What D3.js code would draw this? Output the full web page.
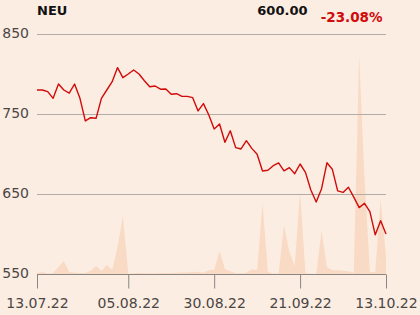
<!DOCTYPE html>
<html>
<head>
<meta charset="utf-8">
<script src="https://cdn.jsdelivr.net/npm/d3@7"></script>
<style>
  html, body { margin: 0; padding: 0; background: #fcede2; }
  svg { display: block; font-family: "DejaVu Sans", sans-serif; }
</style>
</head>
<body>
<div id="chart"></div>
<script>
// closing prices, one per trading day 13.07.22 .. 13.10.22
var prices = [780, 780, 778, 769.6, 787.5, 780, 776, 787.5, 769.6, 741.3,
  745.4, 744.6, 769.6, 780, 790.4, 808, 795.4, 800, 805, 800,
  791.6, 784, 785, 781, 781.3, 774.6, 775.4, 772, 772, 770.4,
  753.8, 763, 748.8, 731.3, 737.5, 714.6, 729, 708, 706.3, 716.6,
  707, 699.6, 678.8, 679.6, 685.4, 688.8, 679, 683, 675.4, 687.5,
  677, 655, 640, 656.6, 689, 681, 654, 652, 658.4, 646,
  633, 638.4, 628, 599, 616.6, 600];

// traded volume (relative units)
var volumes = [1, 2, 0.5, 1, 7, 13, 2, 1.3, 1, 1,
  3.3, 8, 3.3, 9, 4, 27, 58, 0.3, 0.7, 1,
  0.5, 0.7, 0.5, 1, 1, 1, 1.3, 1.5, 1.5, 2,
  2.3, 1.3, 3.7, 4, 23, 5, 2.7, 0.7, 0.7, 1.3,
  4.7, 4, 71, 2, 0.5, 0.5, 49, 22, 8, 82,
  0.7, 0.3, 0.3, 43, 6.7, 4, 3.7, 3.3, 2.7, 1.3,
  219, 95, 2, 2.3, 75, 18];

var tickIndex = [0, 17, 33, 49, 65];
var tickLabels = ["13.07.22", "05.08.22", "30.08.22", "21.09.22", "13.10.22"];
var yTicks = [550, 650, 750, 850];

var title = "NEU";
var lastPrice = "600.00";
var change = "-23.08%";

var width = 420, height = 315;
var margin = { top: 34, right: 34, bottom: 41, left: 37 };

var svg = d3.select("#chart").append("svg")
    .attr("width", width)
    .attr("height", height);

var x = d3.scaleLinear()
    .domain([0, prices.length - 1])
    .range([margin.left, width - margin.right]);

var y = d3.scaleLinear()
    .domain([550, 850])
    .range([height - margin.bottom, margin.top]);

var yVol = d3.scaleLinear()
    .domain([0, 240])
    .range([height - margin.bottom, margin.top]);

// volume area
var area = d3.area()
    .x(function (d, i) { return x(i); })
    .y0(yVol(0))
    .y1(function (d) { return yVol(d); });

svg.append("path")
    .datum(volumes)
    .attr("d", area)
    .style("fill", "#f9d9c2")
    .style("fill-opacity", 0.95);

// grid lines + y labels
var grid = svg.append("g");
grid.selectAll("line")
    .data(yTicks)
    .enter().append("line")
    .attr("x1", x(0))
    .attr("x2", x(prices.length - 1))
    .attr("y1", function (d) { return Math.round(y(d)) + 0.5; })
    .attr("y2", function (d) { return Math.round(y(d)) + 0.5; })
    .style("stroke", function (d) { return d === 550 ? "#8a8580" : "#b3aca6"; })
    .style("stroke-width", 1);

grid.selectAll("text")
    .data(yTicks)
    .enter().append("text")
    .attr("x", 29)
    .attr("y", function (d) { return y(d) - 1; })
    .attr("dy", "0.35em")
    .attr("text-anchor", "end")
    .style("font-size", "14px")
    .style("fill", "#4a4644")
    .text(function (d) { return d; });

// x axis
var xAxis = d3.axisBottom(x)
    .tickValues(tickIndex)
    .tickSize(14)
    .tickSizeOuter(0)
    .tickFormat(function (d, i) { return tickLabels[i]; });

var gx = svg.append("g")
    .attr("transform", "translate(0," + (Math.round(y(550)) + 0.5) + ")")
    .call(xAxis);
gx.select(".domain").remove();
gx.selectAll(".tick line").style("stroke", "#8a8580");
gx.selectAll(".tick text")
    .attr("y", 24)
    .style("font-size", "14px")
    .style("font-family", "DejaVu Sans, sans-serif")
    .style("fill", "#4a4644");

// price line
var line = d3.line()
    .x(function (d, i) { return x(i); })
    .y(function (d) { return y(d); });

svg.append("path")
    .datum(prices)
    .attr("d", line)
    .style("fill", "none")
    .style("stroke", "#d10a0a")
    .style("stroke-width", 1.4)
    .style("stroke-linejoin", "round");

// header texts
svg.append("text")
    .attr("x", 37)
    .attr("y", 15)
    .style("font-size", "13px")
    .style("font-weight", "bold")
    .style("fill", "#111")
    .text(title);

svg.append("text")
    .attr("x", 307.5)
    .attr("y", 15)
    .attr("text-anchor", "end")
    .style("font-size", "13px")
    .style("font-weight", "bold")
    .style("fill", "#111")
    .text(lastPrice);

svg.append("text")
    .attr("x", 382.5)
    .attr("y", 21.5)
    .attr("text-anchor", "end")
    .style("font-size", "13.5px")
    .style("font-weight", "bold")
    .style("fill", "#d10a0a")
    .text(change);
</script>
</body>
</html>
